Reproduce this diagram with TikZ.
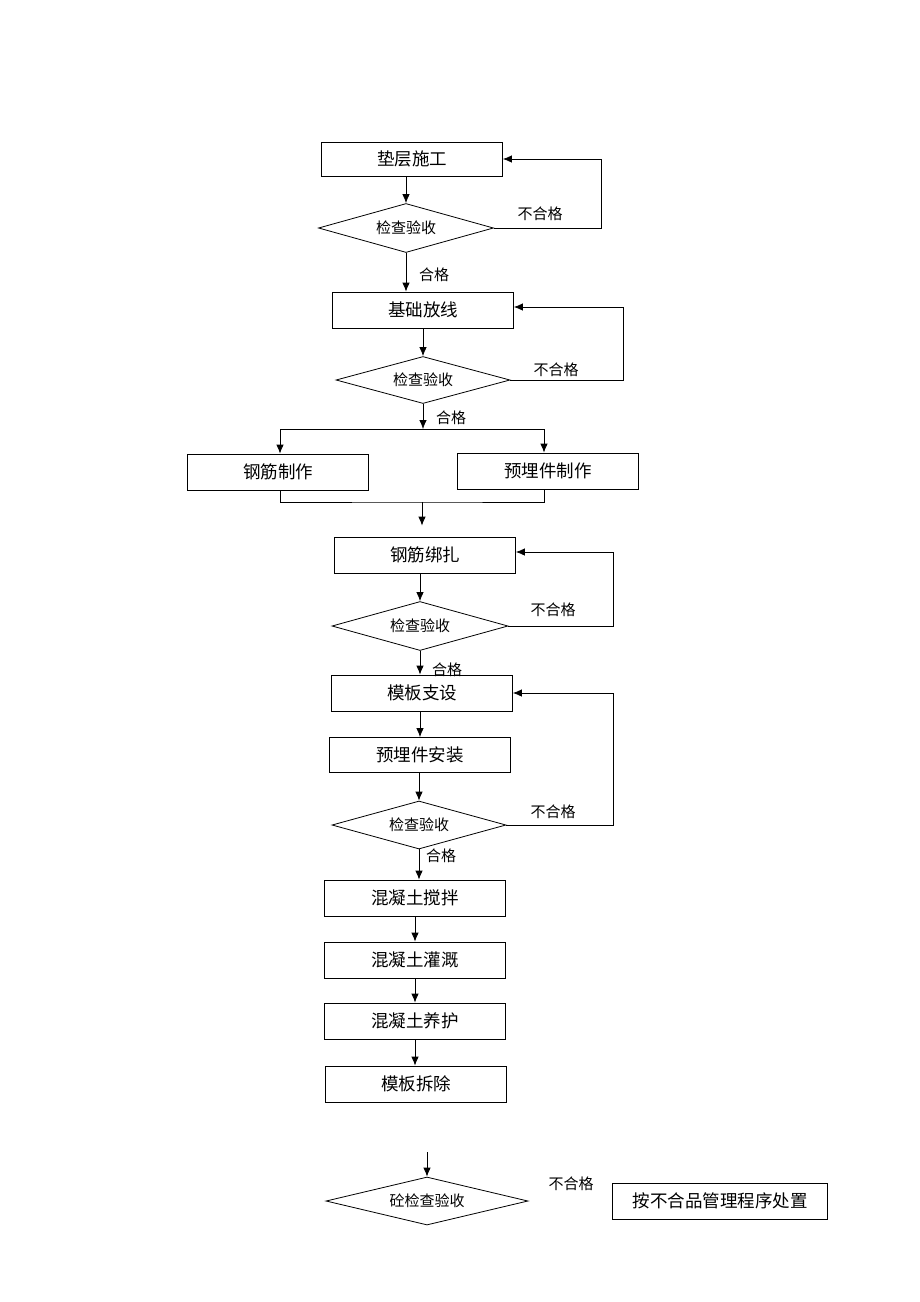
\documentclass[tikz,border=0pt]{standalone}
\usepackage{fontspec}
\newfontfamily\cjk{Noto Sans CJK SC}
\usetikzlibrary{shapes.geometric,arrows.meta}
\begin{document}
\begin{tikzpicture}
        [x=1pt,y=-1pt,line width=0.8pt,
         box/.style={draw,rectangle,minimum width=181pt,minimum height=36pt,inner sep=0pt,font=\cjk\fontsize{17.5}{17.5}\selectfont},
         check/.style={draw,diamond,aspect=3.5,inner sep=0pt,font=\cjk\fontsize{15}{15}\selectfont},
         lbl/.style={font=\cjk\fontsize{15}{15}\selectfont},
         arr/.style={-{Latex[length=9pt,width=7.5pt]}}]
        \useasboundingbox (0,0) rectangle (920,1302);
        \node[box,minimum height=34pt] (b1) at (412,159) {垫层施工};
        \node[check,minimum width=175pt,minimum height=49pt] (d1) at (406,228) {检查验收};
        \node[box] (b2) at (423,310) {基础放线};
        \node[check,minimum width=174pt,minimum height=47pt] (d2) at (423,380) {检查验收};
        \node[box] (b3) at (278,472) {钢筋制作};
        \node[box] (b4) at (548,471) {预埋件制作};
        \node[box] (b5) at (425,555) {钢筋绑扎};
        \node[check,minimum width=176pt,minimum height=49pt] (d3) at (420,626) {检查验收};
        \node[box] (b6) at (422,693) {模板支设};
        \node[box,minimum height=35pt] (b7) at (420,755) {预埋件安装};
        \node[check,minimum width=174pt,minimum height=48pt] (d4) at (419,825) {检查验收};
        \node[box] (b8) at (415,898) {混凝土搅拌};
        \node[box] (b9) at (415,960) {混凝土灌溉};
        \node[box] (b10) at (415,1021) {混凝土养护};
        \node[box] (b11) at (416,1084) {模板拆除};
        \node[check,minimum width=202pt,minimum height=48pt] (d5) at (427,1201) {砼检查验收};
        \node[box,minimum width=215pt] (b12) at (720,1201) {按不合品管理程序处置};
        \coordinate (fork) at (423,429);
        \coordinate (join) at (422,502);
        \coordinate (s) at (427,1152);

        \node[lbl] (n1) at (540,214) {不合格};
        \node[lbl] (n2) at (556,370) {不合格};
        \node[lbl] (n3) at (553,610) {不合格};
        \node[lbl] (n4) at (553,812) {不合格};
        \node[lbl] (n5) at (571,1184) {不合格};
        \node[lbl] (h1) at (434,275) {合格};
        \node[lbl] (h2) at (451,418) {合格};
        \node[lbl] (h3) at (447,670) {合格};
        \node[lbl] (h4) at (441,856) {合格};

        \draw[arr] (b1.south -| d1) -- (d1.north);
        \draw[arr] (d1.south) -- (d1.south |- b2.north);
        \draw[arr] (d1.east) -- ++(107,0) |- (b1.east);
        \draw[arr] (b2.south) -- (d2.north);
        \draw[arr] (d2.east) -- ++(113,0) |- ([yshift=3pt]b2.east);
        \draw[arr] (d2.south) -- (fork);
        \draw[arr] (fork) -| ([xshift=2pt]b3.north);
        \draw[arr] (fork) -| ([xshift=-4pt]b4.north);
        \draw ([xshift=2pt]b3.south) |- (join) -| ([xshift=-4pt]b4.south);
        \draw[arr,shorten >=11pt] (join) -- (join |- b5.north);
        \draw[arr] (b5.south -| d3) -- (d3.north);
        \draw[arr] (d3.east) -- ++(105,0) |- ([yshift=3pt]b5.east);
        \draw[arr] (d3.south) -- (d3.south |- b6.north);
        \draw[arr] (b6.south -| b7) -- (b7.north);
        \draw[arr] (b7.south -| d4) -- (d4.north);
        \draw[arr] (d4.east) -- ++(107,0) |- (b6.east);
        \draw[arr] (d4.south) -- (d4.south |- b8.north);
        \draw[arr] (b8.south) -- (b9.north);
        \draw[arr] (b9.south) -- (b10.north);
        \draw[arr] (b10.south) -- (b10.south |- b11.north);
        \draw[arr] (s) -- (d5.north);
\end{tikzpicture}
\end{document}
